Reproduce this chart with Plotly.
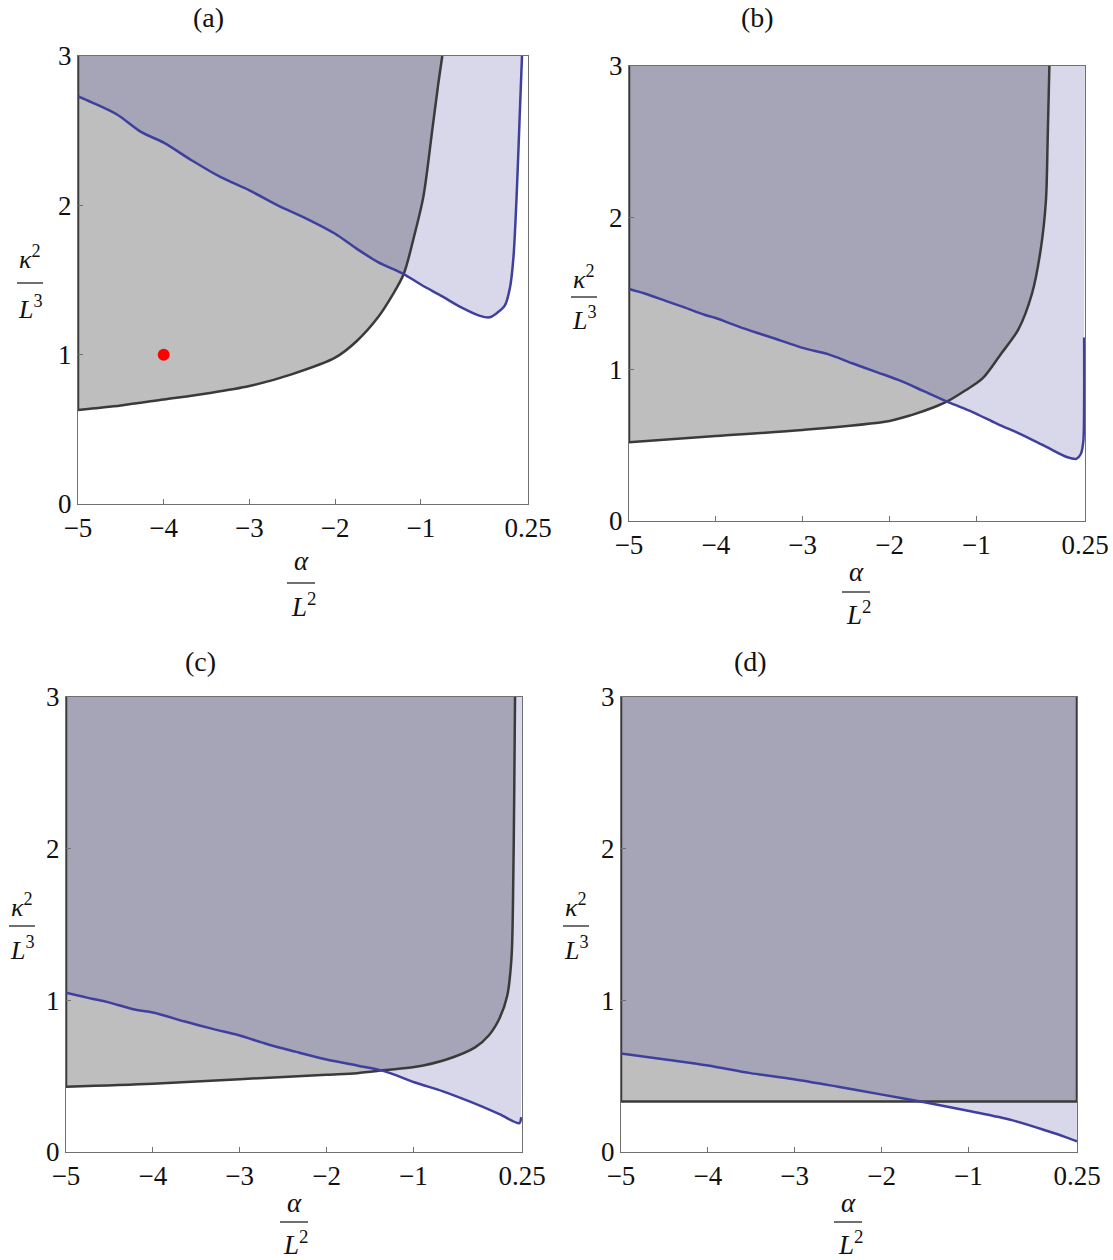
import plotly.graph_objects as go

W, H = 1113, 1260

# ---- data (x = alpha/L^2, y = kappa^2/L^3) ----
black_x_a = [-5, -4.5, -4, -3.5, -3, -2.5, -2, -1.75, -1.5, -1.33, -1.2, -1.08, -0.97, -0.87, -0.8, -0.75]
black_y_a = [0.63, 0.66, 0.70, 0.74, 0.79, 0.87, 0.98, 1.09, 1.25, 1.40, 1.54, 1.79, 2.06, 2.49, 2.8, 3.0]
blue_x_a = [-5, -4.84, -4.55, -4.26, -4.0, -3.67, -3.34, -3.0, -2.67, -2.33, -2.0, -1.75, -1.5, -1.2,
            -1.0, -0.75, -0.54, -0.31, -0.2, -0.11, -0.02, 0.04, 0.08, 0.12, 0.15, 0.18]
blue_y_a = [2.73, 2.69, 2.61, 2.49, 2.42, 2.30, 2.19, 2.10, 2.00, 1.91, 1.81, 1.71, 1.62, 1.54,
            1.47, 1.39, 1.32, 1.26, 1.25, 1.28, 1.33, 1.45, 1.65, 2.1, 2.55, 3.0]
point_x_a = [-4]
point_y_a = [1]

black_x_b = [-5, -4, -3, -2, -1.74, -1.49, -1.33, -1.13, -0.93, -0.72, -0.52, -0.36, -0.26, -0.20, -0.18, -0.16]
black_y_b = [0.52, 0.56, 0.60, 0.66, 0.70, 0.75, 0.79, 0.86, 0.94, 1.10, 1.26, 1.50, 1.79, 2.11, 2.51, 3.0]
blue_x_b = [-5, -4.82, -4.57, -4.37, -4.13, -4.01, -3.68, -3.36, -2.99, -2.71, -2.43, -2.14, -1.90,
            -1.62, -1.31, -1.05, -0.76, -0.48, -0.20, 0.05, 0.15, 0.20, 0.23, 0.24, 0.24]
blue_y_b = [1.53, 1.50, 1.45, 1.41, 1.36, 1.34, 1.27, 1.21, 1.14, 1.10, 1.04, 0.98, 0.93,
            0.86, 0.78, 0.72, 0.64, 0.57, 0.49, 0.42, 0.41, 0.44, 0.52, 0.8, 1.21]

black_x_c = [-5, -4, -3, -2, -1.65, -1.32, -0.99, -0.62, -0.29, -0.13, -0.01, 0.08, 0.13, 0.15, 0.16, 0.17]
black_y_c = [0.43, 0.45, 0.48, 0.51, 0.52, 0.54, 0.56, 0.61, 0.69, 0.77, 0.88, 1.03, 1.29, 1.81, 2.33, 3.0]
blue_x_c = [-5, -4.70, -4.53, -4.21, -4.0, -3.63, -3.30, -3.01, -2.68, -2.35, -2.0, -1.65, -1.32,
            -0.99, -0.66, -0.34, -0.01, 0.22, 0.24]
blue_y_c = [1.05, 1.01, 0.99, 0.94, 0.92, 0.86, 0.81, 0.77, 0.71, 0.66, 0.61, 0.57, 0.53,
            0.46, 0.40, 0.33, 0.25, 0.19, 0.23]

black_x_d = [-5, 0.25, 0.25]
black_y_d = [0.333, 0.333, 3.0]
blue_x_d = [-5, -4.49, -4.0, -3.51, -3.01, -2.50, -2.01, -1.52, -0.99, -0.50, -0.10, 0.11, 0.25]
blue_y_d = [0.65, 0.61, 0.57, 0.52, 0.48, 0.43, 0.38, 0.33, 0.27, 0.21, 0.14, 0.10, 0.07]

x_tickvals = [-5, -4, -3, -2, -1, 0.25]
x_ticktext = ['\u22125', '\u22124', '\u22123', '\u22122', '\u22121', '0.25']
y_tickvals = [0, 1, 2, 3]
panel_labels = ['(a)', '(b)', '(c)', '(d)']

X_MIN, X_MAX, Y_TOP = -5, 0.25, 3

GRAY = '#bebebe'
BLUE_FILL = 'rgba(74,74,157,0.215)'
BLUE_LINE = '#3f3f9f'
BLACK_LINE = '#3a3a3a'
FRAME = '#707070'
SERIF = 'Liberation Serif, DejaVu Serif, serif'
TXT = '#111111'
SMOOTH = 0.85


def fx(px):
    return px / W


def fy(py):
    return 1 - py / H


# pixel boxes of the four frames (left, top, right, bottom) and label spots
panels = [
    dict(box=(78, 56, 528, 504), black=(black_x_a, black_y_a), blue=(blue_x_a, blue_y_a),
         title=(208, 18), xlab=(301, 561, 583, 605), ylab=(30, 258, 283, 307)),
    dict(box=(629, 66, 1085, 521), black=(black_x_b, black_y_b), blue=(blue_x_b, blue_y_b),
         title=(757, 18), xlab=(856, 572, 592, 613), ylab=(584, 277, 297, 318)),
    dict(box=(66, 697, 522, 1152), black=(black_x_c, black_y_c), blue=(blue_x_c, blue_y_c),
         title=(200, 661), xlab=(294, 1203, 1222, 1243), ylab=(22, 905, 926, 948)),
    dict(box=(621, 697, 1077, 1152), black=(black_x_d, black_y_d), blue=(blue_x_d, blue_y_d),
         title=(750, 661), xlab=(848, 1203, 1222, 1243), ylab=(576, 905, 926, 948)),
]

fig = go.Figure()
annotations = []
shapes = []


def add_label(x, y, text, size):
    annotations.append(dict(x=fx(x), y=fy(y), xref='paper', yref='paper', text=text,
                            showarrow=False, xanchor='center', yanchor='middle',
                            font=dict(family=SERIF, size=size, color=TXT)))


def add_region(xa, ya, cx, cy, color, shape):
    # invisible top edge, then the curve filled up to it
    x_end = cx[-1] if cy[-1] >= Y_TOP else X_MAX
    fig.add_trace(go.Scatter(x=[X_MIN, x_end], y=[Y_TOP, Y_TOP], mode='lines',
                             line=dict(width=0), hoverinfo='skip', xaxis=xa, yaxis=ya))
    fig.add_trace(go.Scatter(x=cx, y=cy, mode='lines', fill='tonexty', fillcolor=color,
                             line=dict(width=0, shape=shape, smoothing=SMOOTH),
                             hoverinfo='skip', xaxis=xa, yaxis=ya))


for i, p in enumerate(panels):
    n = '' if i == 0 else str(i + 1)
    xa, ya = 'x' + n, 'y' + n
    bx, by = p['black']
    ux, uy = p['blue']
    smooth = 'linear' if i == 3 else 'spline'

    add_region(xa, ya, bx, by, GRAY, smooth)
    add_region(xa, ya, ux, uy, BLUE_FILL, 'spline')

    # boundary lines
    fig.add_trace(go.Scatter(x=[X_MIN, X_MIN], y=[Y_TOP, by[0]], mode='lines',
                             line=dict(color=BLACK_LINE, width=2.5), xaxis=xa, yaxis=ya))
    fig.add_trace(go.Scatter(x=bx, y=by, mode='lines',
                             line=dict(color=BLACK_LINE, width=2.5, shape=smooth, smoothing=SMOOTH),
                             xaxis=xa, yaxis=ya))
    fig.add_trace(go.Scatter(x=ux, y=uy, mode='lines',
                             line=dict(color=BLUE_LINE, width=2.5, shape='spline', smoothing=SMOOTH),
                             xaxis=xa, yaxis=ya))
    if i == 0:
        fig.add_trace(go.Scatter(x=point_x_a, y=point_y_a, mode='markers',
                                 marker=dict(color='#ff0000', size=12), xaxis=xa, yaxis=ya))

    l, t, r, b = p['box']
    axis_common = dict(showline=True, mirror=True, linecolor=FRAME, linewidth=1,
                       ticks='inside', ticklen=5, tickcolor=FRAME, showgrid=False,
                       zeroline=False, automargin=False,
                       tickfont=dict(family=SERIF, size=27, color=TXT))
    fig.update_layout(**{
        'xaxis' + n: dict(domain=[fx(l), fx(r)], range=[X_MIN, X_MAX], anchor=ya,
                          tickvals=x_tickvals, ticktext=x_ticktext, **axis_common),
        'yaxis' + n: dict(domain=[fy(b), fy(t)], range=[0, Y_TOP], anchor=xa,
                          tickvals=y_tickvals, **axis_common),
    })

    # panel label
    tx, ty = p['title']
    add_label(tx, ty, panel_labels[i], 28)
    # x label: alpha / L^2
    cx, ny, bary, dy = p['xlab']
    add_label(cx, ny, '<i>\u03b1</i>', 27)
    add_label(cx + 2, dy, '<i>L</i><sup>2</sup>', 27)
    shapes.append(dict(type='line', xref='paper', yref='paper', x0=fx(cx - 14), x1=fx(cx + 14),
                       y0=fy(bary), y1=fy(bary), line=dict(color='#222', width=1.3)))
    # y label: kappa^2 / L^3
    cx, ny, bary, dy = p['ylab']
    add_label(cx, ny, '<i>\u03ba</i><sup>2</sup>', 26)
    add_label(cx, dy, '<i>L</i><sup>3</sup>', 26)
    shapes.append(dict(type='line', xref='paper', yref='paper', x0=fx(cx - 13), x1=fx(cx + 13),
                       y0=fy(bary), y1=fy(bary), line=dict(color='#222', width=1.3)))

fig.update_layout(width=W, height=H, margin=dict(l=0, r=0, t=0, b=0, autoexpand=False),
                  paper_bgcolor='white', plot_bgcolor='white', showlegend=False,
                  annotations=annotations, shapes=shapes)

# drop the page's default body margin so the figure sits at the window's corner
fig.write_html("out.html", config={'displayModeBar': False},
               post_script="document.body.style.margin='0px';")
